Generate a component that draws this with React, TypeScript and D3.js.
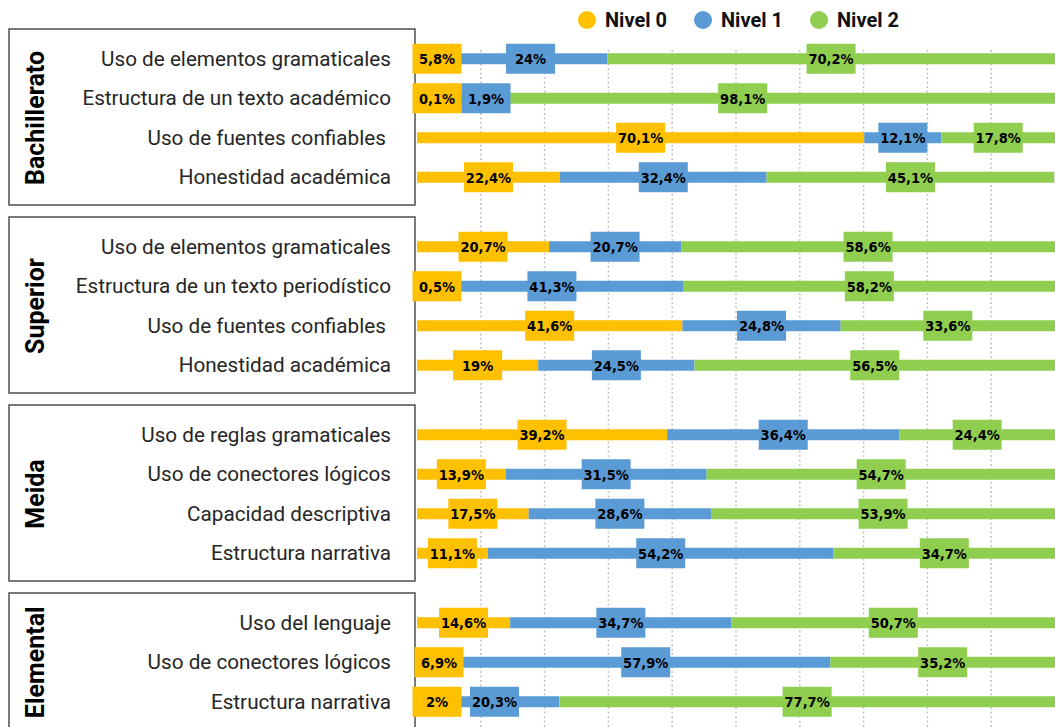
import * as React from 'react'
import * as d3 from 'd3'

// grupos y categorías
const groups = ['Bachillerato', 'Superior', 'Meida', 'Elemental'];

const categories = [
  ['Uso de elementos gramaticales', 'Estructura de un texto académico', 'Uso de fuentes confiables\u00A0', 'Honestidad académica'],
  ['Uso de elementos gramaticales', 'Estructura de un texto periodístico', 'Uso de fuentes confiables\u00A0', 'Honestidad académica'],
  ['Uso de reglas gramaticales', 'Uso de conectores lógicos', 'Capacidad descriptiva', 'Estructura narrativa'],
  ['Uso del lenguaje', 'Uso de conectores lógicos', 'Estructura narrativa'],
];

const nivel0 = [
  [5.8, 0.1, 70.1, 22.4],
  [20.7, 0.5, 41.6, 19],
  [39.2, 13.9, 17.5, 11.1],
  [14.6, 6.9, 2],
];
const nivel1 = [
  [24, 1.9, 12.1, 32.4],
  [20.7, 41.3, 24.8, 24.5],
  [36.4, 31.5, 28.6, 54.2],
  [34.7, 57.9, 20.3],
];
const nivel2 = [
  [70.2, 98.1, 17.8, 45.1],
  [58.6, 58.2, 33.6, 56.5],
  [24.4, 54.7, 53.9, 34.7],
  [50.7, 35.2, 77.7],
];

const seriesNames = ['Nivel 0', 'Nivel 1', 'Nivel 2'];
const colors = ['#FFC000', '#5B9BD5', '#8FCE4E'];
const gridTicks = [10, 20, 30, 40, 50, 60, 70, 80, 90];

const W = 1055;
const H = 727;
const BOX_W = 49;
const BOX_H = 30;
const BAR_H = 11;

const fmt = (v: number) => `${String(v).replace('.', ',')}%`;

const App: React.FC = () => {
  const x = d3.scaleLinear().domain([0, 100]).range([417, 1055]);
  const groupY = d3.scaleBand<string>().domain(groups).range([29, 769]).paddingInner(12 / 188);
  const rowY = d3.scaleBand<number>().domain([0, 1, 2, 3]).range([0, 158]);
  const color = d3.scaleOrdinal<string, string>().domain(seriesNames).range(colors);
  const legendX = d3.scalePoint<string>().domain(seriesNames).range([587, 819]);

  const rowCenter = (g: number, i: number) =>
    (groupY(groups[g]) as number) + 10 + (rowY(i) as number) + rowY.bandwidth() / 2;

  const rows = groups.flatMap((g, gi) =>
    categories[gi].map((cat, i) => {
      const vals = [nivel0[gi][i], nivel1[gi][i], nivel2[gi][i]];
      const stack = d3.cumsum(vals);
      const segs = vals.map((v, k) => ({ v, k, x0: k === 0 ? 0 : stack[k - 1], x1: stack[k] }));
      // posiciones de las etiquetas sin solaparse
      let prevRight = -Infinity;
      const labels = segs.map(s => {
        let cx = Math.max(x((s.x0 + s.x1) / 2), 437);
        if (cx - BOX_W / 2 < prevRight) cx = prevRight + BOX_W / 2;
        prevRight = cx + BOX_W / 2;
        return { ...s, cx };
      });
      return { gi, i, cat, cy: rowCenter(gi, i), segs, labels };
    })
  );

  return (
    <svg width={W} height={H} style={{ position: 'absolute', left: 0, top: 0 }}>
      <rect width={W} height={H} fill="#fff" />

      {/* legend */}
      {seriesNames.map(s => (
        <g key={s} transform={`translate(${legendX(s)},20)`}>
          <circle r={9} fill={color(s)} />
          <text x={18} y={7} fontFamily="Roboto, sans-serif" fontWeight="bold" fontSize={20} fill="#111">{s}</text>
        </g>
      ))}

      {/* grid */}
      {gridTicks.map(t => (
        <line key={t} x1={x(t)} x2={x(t)} y1={50} y2={H}
          stroke="#c4c4c4" strokeWidth={1.5} strokeDasharray="2,2.5" />
      ))}

      {/* group boxes */}
      {groups.map((g, gi) => {
        const top = groupY(g) as number;
        const first = rowCenter(gi, 0);
        const last = rowCenter(gi, categories[gi].length - 1);
        const mid = (first + last) / 2;
        return (
          <g key={g}>
            <rect x={9} y={top} width={406} height={groupY.bandwidth()} fill="none" stroke="#333" strokeWidth={1.3} />
            <text transform={`translate(44,${mid}) rotate(-90)`} textAnchor="middle"
              fontFamily="Roboto, sans-serif" fontWeight="bold" fontSize={25} fill="#000">{g}</text>
          </g>
        );
      })}

      {/* rows */}
      {rows.map(r => (
        <g key={`${r.gi}-${r.i}`}>
          <text x={391} y={r.cy} textAnchor="end" dominantBaseline="central"
            fontFamily="Roboto, sans-serif" fontSize={20.7} fill="#262626" style={{ whiteSpace: 'pre' }}>{r.cat}</text>
          {r.segs.map(s => (
            <rect key={s.k} x={x(s.x0)} y={r.cy - BAR_H / 2} width={x(s.x1) - x(s.x0)} height={BAR_H}
              fill={colors[s.k]} />
          ))}
          {r.labels.map(l => (
            <g key={`l${l.k}`} transform={`translate(${l.cx},${r.cy})`}>
              <rect x={-BOX_W / 2} y={-BOX_H / 2} width={BOX_W} height={BOX_H} fill={colors[l.k]} />
              <text textAnchor="middle" dominantBaseline="central" y={0.5}
                fontFamily="'DejaVu Sans Condensed', 'Liberation Sans Narrow', sans-serif" fontWeight="bold"
                fontSize={14.5} fill="#000">{fmt(l.v)}</text>
            </g>
          ))}
        </g>
      ))}
    </svg>
  );
};

export default App;
